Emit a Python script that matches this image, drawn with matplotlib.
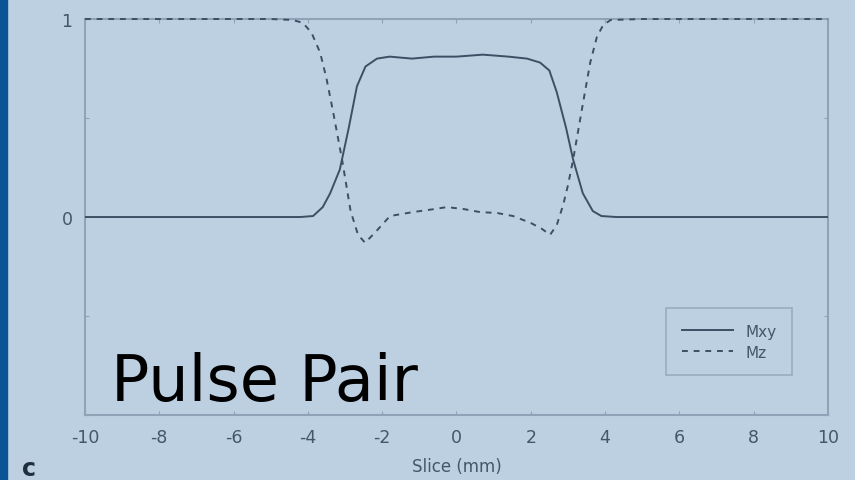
import matplotlib
matplotlib.use("Agg")
import matplotlib.pyplot as plt

# values
mxy_x = [-10, -5, -4.2, -3.86, -3.6, -3.4, -3.14, -2.9, -2.68, -2.45, -2.14, -1.8,
         -1.2, -0.6, 0, 0.71, 1.4, 1.9, 2.25, 2.5, 2.70, 2.95, 3.14, 3.4, 3.67, 3.9, 4.3, 5, 10]
mxy_y = [0, 0, 0, 0.005, 0.05, 0.12, 0.24, 0.45, 0.66, 0.76, 0.80, 0.81,
         0.80, 0.81, 0.81, 0.82, 0.81, 0.80, 0.78, 0.74, 0.63, 0.45, 0.29, 0.12, 0.03, 0.005, 0, 0, 0]

mz_x = [-10, -5, -4.4, -4.13, -3.9, -3.67, -3.5, -3.32, -3.08, -2.85, -2.65, -2.46, -2.2,
        -1.79, -1.17, -0.6, -0.26, 0.2, 0.63, 1.1, 1.52, 2.0, 2.3, 2.52, 2.7, 2.87,
        3.0, 3.14, 3.41, 3.6, 3.78, 3.95, 4.15, 5, 10]
mz_y = [1, 1, 0.995, 0.98, 0.93, 0.83, 0.70, 0.53, 0.29, 0.03, -0.09, -0.13, -0.08,
        0.005, 0.025, 0.04, 0.05, 0.04, 0.025, 0.02, 0.005, -0.03, -0.06, -0.09, -0.04, 0.06,
        0.16, 0.29, 0.58, 0.78, 0.91, 0.97, 0.995, 1, 1]

x_ticks = [-10, -8, -6, -4, -2, 0, 2, 4, 6, 8, 10]
y_ticks = [-1, -0.5, 0, 0.5, 1]
y_tick_labels = ["", "", "0", "", "1"]

bg = "#bcd0e2"
line_col = "#3b5064"
axis_col = "#8ea3b7"
text_col = "#44576a"

fig = plt.figure(figsize=(8.55, 4.81), dpi=100)
fig.patch.set_facecolor(bg)

# dark strip on the left edge
fig.add_artist(plt.Rectangle((0, 0), 7 / 855, 1, transform=fig.transFigure,
                             color="#0a5396", zorder=0))

ax = fig.add_axes([0.0994, 0.1351, 0.869, 0.8233])
ax.set_facecolor(bg)
ax.plot(mxy_x, mxy_y, color=line_col, lw=1.4, label="Mxy", zorder=3)
ax.plot(mz_x, mz_y, color=line_col, lw=1.4, ls=(0, (3, 3)), label="Mz",
        zorder=3, clip_on=False)

ax.set_xlim(-10, 10)
ax.set_ylim(-1, 1)
ax.set_xticks(x_ticks)
ax.set_xticklabels([str(t) for t in x_ticks])
ax.set_yticks(y_ticks)
ax.set_yticklabels(y_tick_labels)
ax.tick_params(direction="in", length=3, color=axis_col, labelcolor=text_col,
               labelsize=12.5, top=True, right=True, pad=9)
for s in ax.spines.values():
    s.set_color(axis_col)
    s.set_linewidth(1.5)
ax.set_xlabel("Slice (mm)", color=text_col, fontsize=12, labelpad=8)

leg = ax.legend(loc="lower right", bbox_to_anchor=(0.962, 0.082), fontsize=11,
                frameon=True, fancybox=False, handlelength=3.4,
                labelcolor=text_col, borderpad=1.0, labelspacing=0.4)
leg.get_frame().set_facecolor(bg)
leg.get_frame().set_edgecolor(axis_col)
leg.get_frame().set_linewidth(1.2)

fig.text(111 / 855, 1 - 401 / 481, "Pulse Pair", fontsize=46, color="black",
         family="DejaVu Sans")
fig.text(22 / 855, 1 - 476 / 481, "c", fontsize=17, fontweight="bold", color="#1e2f40")

plt.savefig("out.png", dpi=100, facecolor=bg)
